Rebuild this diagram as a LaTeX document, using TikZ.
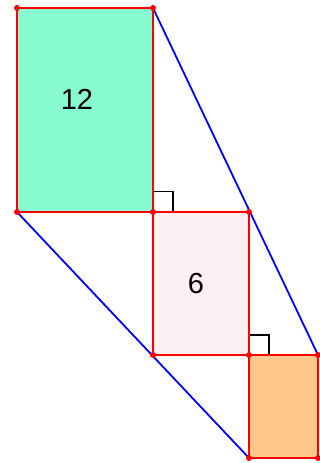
\documentclass[tikz,border=0pt]{standalone}
\usepackage{fontspec}
\setmainfont{Liberation Sans}
\definecolor{mint}{HTML}{88FCD0}
\definecolor{blush}{HTML}{FDF0F3}
\definecolor{apricot}{HTML}{FFC88A}
\tikzset{
  side/.style={draw=red, line width=2pt},
  chord/.style={draw=blue, line width=1.8pt},
  rightmark/.style={draw=black, line width=1.5pt},
  vtx/.style={circle, fill=red, inner sep=0pt, minimum size=6pt},
  area/.style={font=\fontsize{29}{34}\selectfont}
}
\begin{document}
\begin{tikzpicture}[x=1pt, y=-1pt]
  \useasboundingbox (0,0) rectangle (320,463);

  % corners
  \coordinate (A) at (17,8);
  \coordinate (B) at (153,8);
  \coordinate (C) at (153,212);
  \coordinate (D) at (17,212);
  \coordinate (E) at (249,212);
  \coordinate (F) at (249,355);
  \coordinate (G) at (153,355);
  \coordinate (H) at (318,355);
  \coordinate (I) at (318,458);
  \coordinate (J) at (249,458);

  % big rectangle
  \fill[mint] (A) rectangle (C);
  \node[area] (big) at (77,99) {12};

  % middle rectangle
  \fill[blush] (C) rectangle (F);
  \node[area] (mid) at (196,284) {6};

  % small rectangle
  \fill[apricot] (F) rectangle (I);

  % right angles
  \draw[rightmark] (153,191.5) -- (173,191.5) -- (173,212);
  \draw[rightmark] (249,335) -- (269,335) -- (269,355);

  % slanted lines
  \draw[chord] (B) -- (H);
  \draw[chord] (D) -- (J);

  % sides
  \draw[side] (A) -- (B) -- (C) -- (D) -- cycle;
  \draw[side] (C) -- (E) -- (F) -- (G) -- cycle;
  \draw[side] (F) -- (H) -- (I) -- (J) -- cycle;

  % vertices
  \foreach \p in {A,B,C,D,E,F,G,H,I,J}
    \node[vtx] at (\p) {};
\end{tikzpicture}
\end{document}
